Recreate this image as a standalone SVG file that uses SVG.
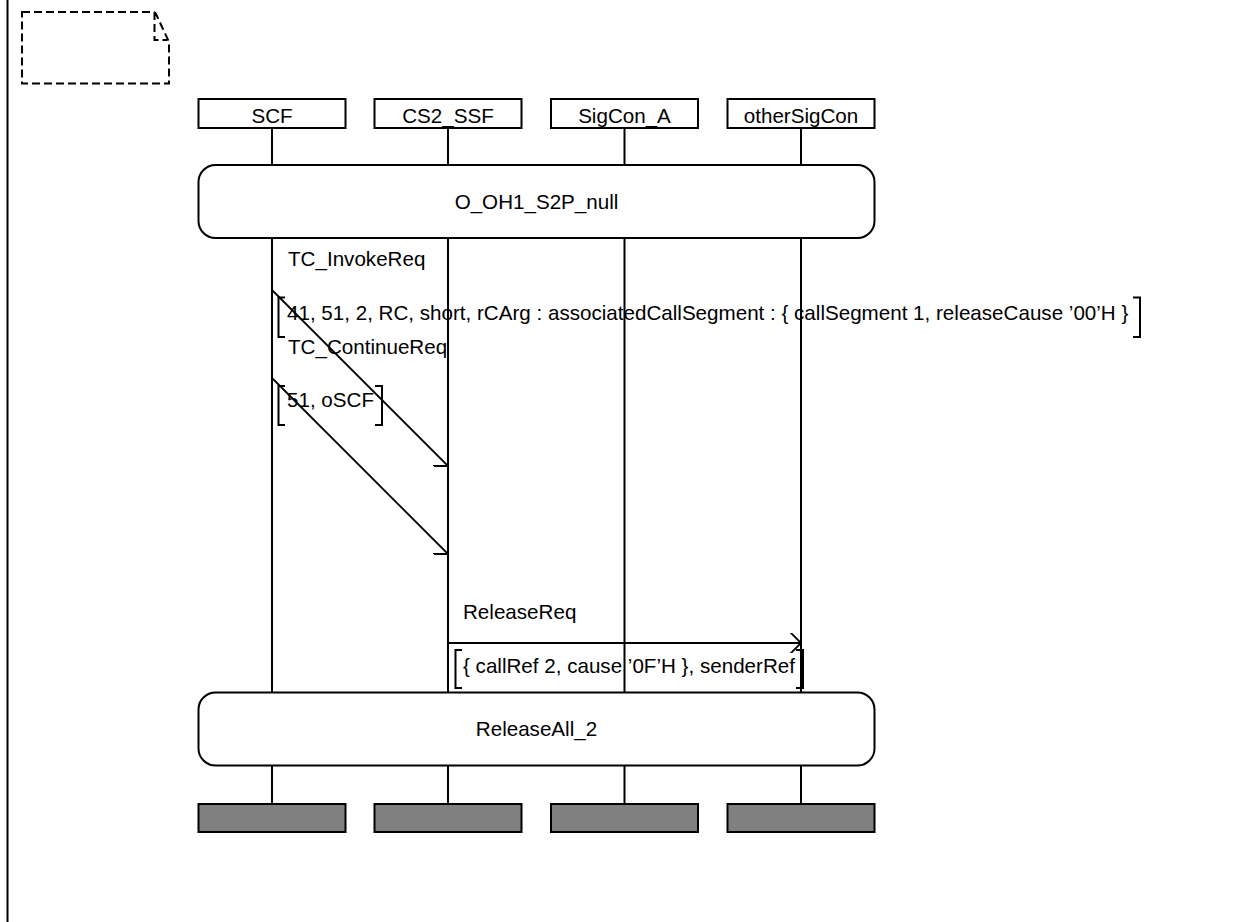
<svg xmlns="http://www.w3.org/2000/svg" width="1252" height="922" viewBox="0 0 1252 922">
<style>
text{font-family:"Liberation Sans",Arial,sans-serif;font-size:20.6px;fill:#000}
.c{text-anchor:middle}
.box{fill:#fff;stroke:#000;stroke-width:2}
.end{fill:#808080;stroke:#000;stroke-width:2}
.ll{stroke:#000;stroke-width:2;fill:none}
.msg{stroke:#000;stroke-width:1.8;fill:none}
.br{stroke:#000;stroke-width:2;fill:none}
.ref{fill:#fff;stroke:#000;stroke-width:2}
</style>
<defs>
<marker id="ah" viewBox="0 0 20 20" refX="15" refY="10" markerWidth="20" markerHeight="20" markerUnits="userSpaceOnUse" orient="auto">
<path d="M4.4,-0.6 L15,10 L4.4,20.6" fill="none" stroke="#000" stroke-width="1.8"/>
</marker>
</defs>
<rect width="1252" height="922" fill="#fff"/>
<line x1="7.5" y1="0" x2="7.5" y2="922" stroke="#000" stroke-width="2"/>
<path d="M22,12 H153 Q155,12 156,14 L169,42 V83.5 H22 Z M154.5,12 V40 H167" fill="none" stroke="#000" stroke-width="2" stroke-dasharray="8,4"/>
<g id="lifelines">
<line class="ll" x1="272" y1="128" x2="272" y2="804"/>
<line class="ll" x1="448" y1="128" x2="448" y2="804"/>
<line class="ll" x1="624.5" y1="128" x2="624.5" y2="804"/>
<line class="ll" x1="801" y1="128" x2="801" y2="804"/>
</g>
<g id="SCF"><rect class="box" x="198.5" y="99" width="147" height="29"/><text class="c" x="272" y="123">SCF</text><rect class="end" x="198.5" y="804" width="147" height="28"/></g>
<g id="CS2_SSF"><rect class="box" x="374.5" y="99" width="147" height="29"/><text class="c" x="448" y="123">CS2_SSF</text><rect class="end" x="374.5" y="804" width="147" height="28"/></g>
<g id="SigCon_A"><rect class="box" x="551" y="99" width="147" height="29"/><text class="c" x="624.5" y="123">SigCon_A</text><rect class="end" x="551" y="804" width="147" height="28"/></g>
<g id="otherSigCon"><rect class="box" x="727.5" y="99" width="147" height="29"/><text class="c" x="801" y="123">otherSigCon</text><rect class="end" x="727.5" y="804" width="147" height="28"/></g>
<g id="O_OH1_S2P_null"><rect class="ref" x="198.5" y="165" width="676" height="73" rx="17" ry="17"/><text class="c" x="536.5" y="209">O_OH1_S2P_null</text></g>
<g id="ReleaseAll_2"><rect class="ref" x="198.5" y="692.5" width="676" height="73" rx="17" ry="17"/><text class="c" x="536.5" y="736">ReleaseAll_2</text></g>
<g id="connectors">
<text x="288" y="265.5">TC_InvokeReq</text>
<line class="msg" x1="272" y1="290" x2="448" y2="466" marker-end="url(#ah)"/>
<path class="br" d="M285,297.5 H278.5 V337 H285 M1133,297.5 H1140 V337 H1133"/>
<text x="287" y="320">41, 51, 2, RC, short, rCArg : associatedCallSegment : { callSegment 1, releaseCause ’00’H }</text>
<text x="288" y="354">TC_ContinueReq</text>
<line class="msg" x1="272" y1="378" x2="448" y2="554" marker-end="url(#ah)"/>
<path class="br" d="M285,386 H278.5 V425 H285 M375,386 H382 V425 H375"/>
<text x="287" y="407">51, oSCF</text>
<text x="463" y="618.5">ReleaseReq</text>
<line class="msg" x1="448" y1="643" x2="801" y2="643" marker-end="url(#ah)"/>
<path class="br" d="M462,650 H455.5 V688 H462 M796,650 H803 V688 H796"/>
<text x="463" y="672.5">{ callRef 2, cause ’0F’H }, senderRef</text>
</g>
</svg>
